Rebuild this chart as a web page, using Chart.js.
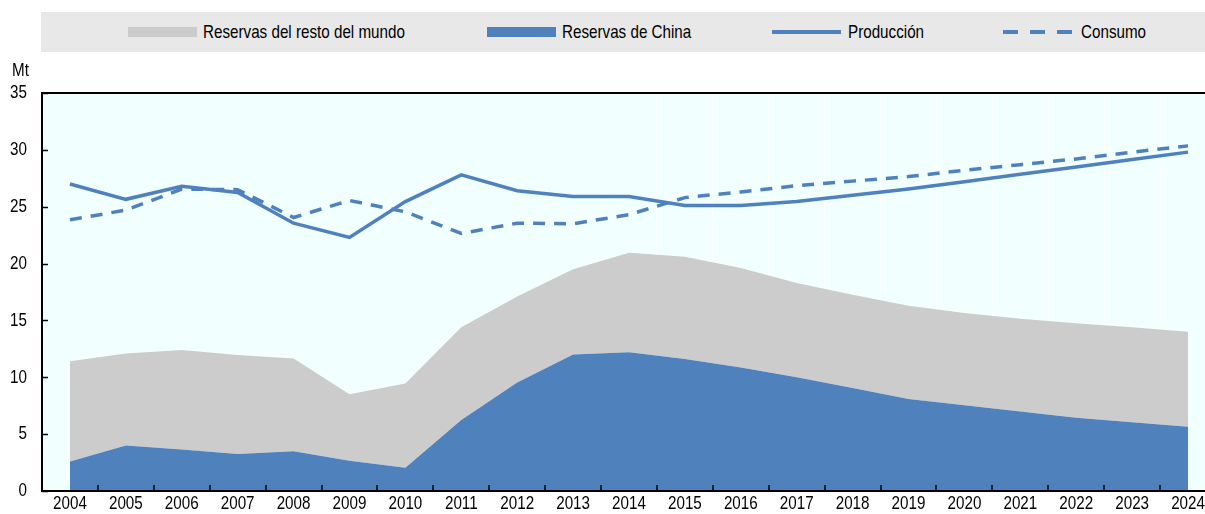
<!DOCTYPE html>
<html>
<head>
<meta charset="utf-8">
<script src="https://cdn.jsdelivr.net/npm/chart.js@4.4.1/dist/chart.umd.min.js"></script>
<style>
    html, body { margin: 0; padding: 0; background: #fff; overflow: hidden; }
    #wrap { position: relative; width: 1216px; height: 514px; }
    #legend {
        position: absolute; left: 41px; top: 12px; width: 1175px; height: 40px;
        background: #e8e8e8;
        font-family: 'Liberation Sans', Arial, sans-serif; font-size: 19px; color: #000;
    }
    .item {
        position: absolute; top: 0; height: 40px; line-height: 40px; white-space: nowrap;
        transform: scaleX(0.8); transform-origin: left center;
    }
    .sw { position: absolute; top: 15px; width: 69px; height: 10px; }
    #unit {
        position: absolute; left: 12px; top: 59px;
        font-family: 'Liberation Sans', Arial, sans-serif; font-size: 19px;
        transform: scaleX(0.8); transform-origin: left center;
    }
</style>
</head>
<body>
<div id="wrap">
    <div id="legend">
        <div class="sw" style="left:87px;background:#cccccc"></div>
        <div class="item" style="left:162px">Reservas del resto del mundo</div>
        <div class="sw" style="left:446px;background:#4f81bd"></div>
        <div class="item" style="left:521px">Reservas de China</div>
        <canvas id="lgSolid" width="70" height="10" style="position:absolute;left:730px;top:15px"></canvas>
        <div class="item" style="left:807px">Producción</div>
        <canvas id="lgDash" width="70" height="10" style="position:absolute;left:961px;top:15px"></canvas>
        <div class="item" style="left:1040px">Consumo</div>
    </div>
    <div id="unit">Mt</div>
    <canvas id="chart"></canvas>
</div>
<script>
// Categories and series (Mt)
const years = ['2004', '2005', '2006', '2007', '2008', '2009', '2010', '2011', '2012', '2013', '2014',
    '2015', '2016', '2017', '2018', '2019', '2020', '2021', '2022', '2023', '2024'];

const reservesChina = [2.6, 4.0, 3.65, 3.25, 3.5, 2.65, 2.05, 6.25, 9.55, 12.0, 12.2,
    11.6, 10.85, 10.0, 9.05, 8.1, 7.55, 7.0, 6.45, 6.05, 5.65];

const reservesRestOfWorld = [8.8, 8.1, 8.75, 8.7, 8.15, 5.85, 7.4, 8.15, 7.55, 7.5, 8.75,
    9.0, 8.75, 8.3, 8.2, 8.2, 8.1, 8.15, 8.3, 8.35, 8.35];

const production = [27.0, 25.65, 26.8, 26.25, 23.55, 22.3, 25.45, 27.8, 26.4, 25.9, 25.9,
    25.1, 25.1, 25.45, 26.0, 26.55, 27.2, 27.85, 28.5, 29.15, 29.8];

const consumption = [23.85, 24.7, 26.55, 26.5, 24.05, 25.55, 24.55, 22.65, 23.55, 23.5, 24.3,
    25.8, 26.3, 26.85, 27.25, 27.65, 28.2, 28.7, 29.2, 29.8, 30.35];

const yTicks = [0, 5, 10, 15, 20, 25, 30, 35];

const blue = '#4f81bd';
const grey = '#cccccc';
const tickFont = "19px 'Liberation Sans', Arial, sans-serif";
const narrow = 0.8;   // fake a narrow face, none is installed

// legend line samples
function drawSample(id, dash) {
    const c = document.getElementById(id).getContext('2d');
    c.strokeStyle = blue;
    c.lineWidth = 4;
    c.setLineDash(dash);
    c.beginPath();
    c.moveTo(1, 5);
    c.lineTo(70, 5);
    c.stroke();
}
drawSample('lgSolid', []);
drawSample('lgDash', [15, 12]);

// plot background, frame, inward tick marks and narrow tick labels
const framePlugin = {
    id: 'frame',
    beforeDraw(chart) {
        const a = chart.chartArea;
        const ctx = chart.ctx;
        ctx.save();
        ctx.fillStyle = '#f2ffff';
        ctx.fillRect(a.left, a.top, a.right - a.left, a.bottom - a.top);
        ctx.restore();
    },
    afterDraw(chart) {
        const a = chart.chartArea;
        const ctx = chart.ctx;
        const x = chart.scales.x;
        const y = chart.scales.y;
        ctx.save();
        ctx.strokeStyle = '#000';
        ctx.lineWidth = 2;
        ctx.beginPath();
        ctx.moveTo(a.left, a.top);
        ctx.lineTo(a.right, a.top);
        ctx.moveTo(a.left, a.top - 1);
        ctx.lineTo(a.left, a.bottom);
        ctx.lineTo(a.right, a.bottom);
        ctx.stroke();
        ctx.lineWidth = 1.5;
        ctx.beginPath();
        yTicks.forEach(v => {
            const py = Math.round(y.getPixelForValue(v)) + 0.5;
            ctx.moveTo(a.left, py);
            ctx.lineTo(a.left + 6, py);
        });
        const step = x.getPixelForValue(1) - x.getPixelForValue(0);
        for (let i = 1; i < years.length; i++) {
            const px = Math.round(x.getPixelForValue(i) - step / 2);
            ctx.moveTo(px, a.bottom);
            ctx.lineTo(px, a.bottom - 6);
        }
        ctx.stroke();

        ctx.fillStyle = '#000';
        ctx.font = tickFont;
        ctx.textBaseline = 'middle';
        ctx.textAlign = 'right';
        yTicks.forEach(v => {
            ctx.save();
            ctx.translate(27, y.getPixelForValue(v));
            ctx.scale(narrow, 1);
            ctx.fillText(String(v), 0, 0);
            ctx.restore();
        });
        ctx.textAlign = 'center';
        years.forEach((yr, i) => {
            ctx.save();
            ctx.translate(x.getPixelForValue(i), a.bottom + 13);
            ctx.scale(narrow, 1);
            ctx.fillText(yr, 0, 0);
            ctx.restore();
        });
        ctx.restore();
    }
};

Chart.defaults.animation = false;

new Chart(document.getElementById('chart').getContext('2d'), {
    type: 'line',
    data: {
        labels: years,
        datasets: [
            {
                label: 'Producción',
                data: production,
                stack: 'prod',
                borderColor: blue,
                borderWidth: 3.5,
                pointRadius: 0,
                fill: false,
                order: 0
            },
            {
                label: 'Consumo',
                data: consumption,
                stack: 'cons',
                borderColor: blue,
                borderWidth: 3.5,
                borderDash: [12, 9],
                pointRadius: 0,
                fill: false,
                order: 1
            },
            {
                label: 'Reservas de China',
                data: reservesChina,
                stack: 'res',
                borderWidth: 0,
                borderColor: blue,
                backgroundColor: blue,
                pointRadius: 0,
                fill: 'origin',
                order: 2
            },
            {
                label: 'Reservas del resto del mundo',
                data: reservesRestOfWorld,
                stack: 'res',
                borderWidth: 0,
                borderColor: grey,
                backgroundColor: grey,
                pointRadius: 0,
                fill: '-1',
                order: 3
            }
        ]
    },
    options: {
        responsive: true,
        maintainAspectRatio: false,
        layout: { padding: { top: 93, right: 0, bottom: 0, left: 0 } },
        plugins: {
            legend: { display: false },
            tooltip: { enabled: false }
        },
        scales: {
            x: {
                offset: true,
                grid: { display: true, offset: true, color: 'rgba(255,255,255,0.6)', drawTicks: false },
                border: { display: false },
                ticks: { display: false },
                afterFit(scale) { scale.height = 23; }
            },
            y: {
                stacked: true,
                min: 0,
                max: 35,
                grid: { display: false, drawTicks: false },
                border: { display: false },
                ticks: { display: false, stepSize: 5 },
                afterFit(scale) { scale.width = 42; }
            }
        }
    },
    plugins: [framePlugin]
});
</script>
</body>
</html>
